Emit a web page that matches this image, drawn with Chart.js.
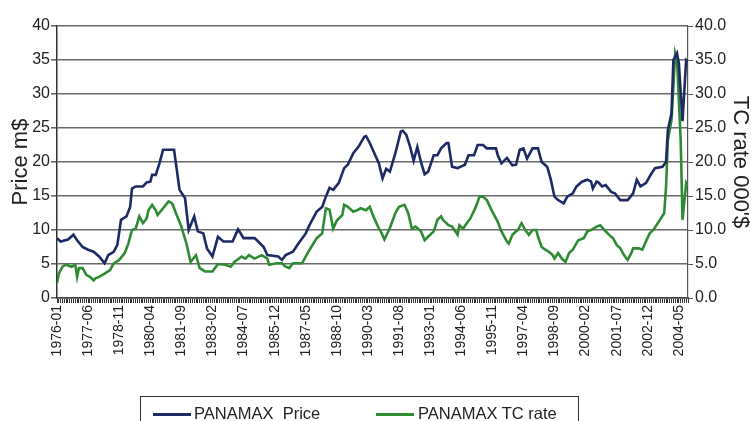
<!DOCTYPE html>
<html>
<head>
<meta charset="utf-8">
<script src="https://cdn.jsdelivr.net/npm/chart.js@4.4.1/dist/chart.umd.min.js"></script>
<style>
  html, body { margin: 0; padding: 0; background: #fff; overflow: hidden; }
  #wrap { position: relative; width: 751px; height: 421px; }
  #legend {
    position: absolute; left: 140px; top: 396px; width: 439px; height: 40px;
    border: 1px solid #333; box-sizing: border-box;
    font-family: 'Liberation Sans', Arial, sans-serif;
    font-size: 16.5px; color: #222; line-height: 20px;
  }
  .swatch { position: absolute; top: 16px; width: 38px; height: 3px; }
  .label { position: absolute; top: 6px; white-space: nowrap; }
</style>
</head>
<body>
<div id="wrap">
  <canvas id="chart" width="751" height="421"></canvas>
  <div id="legend">
    <div class="swatch" style="left:12px;background:#1d2a63"></div>
    <div class="label" style="left:53px">PANAMAX&nbsp; Price</div>
    <div class="swatch" style="left:235px;background:#2f8a34"></div>
    <div class="label" style="left:277px">PANAMAX TC rate</div>
  </div>
</div>
<script>
// x axis tick labels, one every 17 months starting 1976-01
const tickLabels = ["1976-01", "1977-06", "1978-11", "1980-04", "1981-09", "1983-02", "1984-07",
  "1985-12", "1987-05", "1988-10", "1990-03", "1991-08", "1993-01", "1994-06", "1995-11",
  "1997-04", "1998-09", "2000-02", "2001-07", "2002-12", "2004-05"];
const labelEvery = 17;
const lastMonth = 345; // months counted from 1976-01

// PANAMAX price, m$ (month index, value)
const priceMonths = [0, 2, 6, 9, 11, 14, 17, 20, 23, 26, 28, 31, 33, 35, 38, 40, 41, 43, 47, 49,
  51, 52, 54, 56, 58, 64, 67, 70, 72, 75, 77, 80, 82, 85, 88, 91, 96, 98, 99, 102,
  108, 110, 113, 115, 121, 123, 125, 129, 132, 136, 138, 142, 145, 147, 149, 151, 154, 157, 159, 162,
  165, 168, 169, 171, 174, 176, 178, 180, 182, 185, 188, 189, 191, 193, 195, 197, 199, 201, 203, 206,
  208, 210, 213, 214, 216, 219, 223, 225, 228, 230, 233, 235, 240, 241, 243, 246, 249, 251, 253, 255,
  257, 260, 263, 265, 268, 270, 272, 274, 277, 279, 282, 284, 287, 290, 292, 293, 295, 296, 298, 300,
  303, 305, 308, 312, 315, 317, 319, 322, 325, 327, 331, 333, 334, 336, 337, 339, 340, 342, 344, 345];
const priceValues = [8.8, 8.3, 8.6, 9.3, 8.5, 7.5, 7.1, 6.8, 6.1, 5.1, 6.3, 6.8, 7.8, 11.5, 12.0, 13.4, 16.1, 16.4, 16.4, 17.0,
  17.1, 18.1, 18.1, 19.8, 21.8, 21.8, 15.9, 14.7, 10.0, 12.0, 9.8, 9.5, 7.3, 6.1, 9.0, 8.3, 8.3, 9.5, 10.1, 8.8,
  8.8, 8.3, 7.5, 6.3, 6.1, 5.6, 6.3, 6.8, 8.0, 9.5, 10.7, 12.7, 13.4, 14.9, 16.2, 15.9, 16.9, 19.1, 19.6, 21.3,
  22.3, 23.7, 23.8, 22.8, 21.0, 19.8, 17.6, 19.0, 18.6, 21.3, 24.5, 24.6, 24.0, 22.3, 20.2, 22.2, 20.0, 18.2, 18.6, 21.0,
  21.0, 22.0, 22.8, 22.8, 19.3, 19.1, 19.6, 21.0, 21.0, 22.5, 22.5, 22.0, 22.0, 21.0, 19.8, 20.6, 19.5, 19.6, 21.8, 22.0,
  20.5, 22.0, 22.0, 20.0, 19.3, 17.4, 14.9, 14.4, 13.9, 14.9, 15.4, 16.4, 17.1, 17.4, 17.1, 16.1, 17.1, 17.0, 16.4, 16.6,
  15.6, 15.4, 14.4, 14.4, 15.4, 17.4, 16.4, 16.9, 18.3, 19.1, 19.3, 20.0, 24.7, 27.2, 35.0, 36.0, 34.5, 26.0, 35.0, 34.8];

// PANAMAX TC rate, 000$ (month index, value)
const tcMonths = [0, 1, 3, 5, 8, 10, 11, 12, 14, 16, 18, 20, 21, 23, 26, 29, 31, 34, 37, 39,
  41, 43, 45, 47, 49, 50, 52, 54, 55, 58, 61, 63, 65, 68, 71, 73, 76, 78, 81, 85,
  88, 92, 95, 97, 101, 103, 105, 108, 112, 115, 116, 120, 123, 125, 127, 129, 134, 137, 139, 142,
  145, 147, 149, 151, 153, 156, 157, 159, 162, 164, 166, 169, 171, 173, 176, 177, 179, 182, 185, 187,
  190, 192, 194, 196, 199, 201, 204, 206, 208, 210, 211, 214, 216, 219, 220, 222, 224, 226, 229, 231,
  233, 235, 238, 241, 243, 246, 247, 249, 251, 252, 254, 256, 258, 260, 262, 263, 265, 267, 269, 271,
  272, 274, 276, 278, 280, 282, 285, 288, 290, 292, 295, 297, 300, 303, 304, 306, 308, 310, 312, 314,
  315, 318, 320, 322, 324, 326, 329, 332, 333, 334, 336, 338, 339, 341, 342, 344, 345];
const tcValues = [2.2, 3.6, 4.6, 4.9, 4.6, 4.9, 3.1, 4.4, 4.4, 3.4, 3.1, 2.6, 2.9, 3.1, 3.6, 4.1, 5.1, 5.6, 6.6, 8.0,
  10.0, 10.2, 12.0, 11.0, 11.7, 12.9, 13.7, 12.9, 12.2, 13.2, 14.2, 13.9, 12.5, 10.5, 7.8, 5.3, 6.3, 4.4, 3.9, 3.9,
  5.0, 4.9, 4.6, 5.3, 6.1, 5.8, 6.3, 5.8, 6.3, 5.8, 4.9, 5.1, 5.1, 4.6, 4.4, 5.1, 5.1, 6.6, 7.5, 8.8,
  9.5, 13.2, 13.0, 10.2, 11.4, 12.2, 13.7, 13.4, 12.7, 12.9, 13.2, 12.9, 13.4, 12.0, 10.2, 9.8, 8.6, 10.3, 12.5, 13.4,
  13.7, 12.5, 10.2, 10.5, 9.8, 8.5, 9.3, 9.8, 11.5, 12.0, 11.5, 10.7, 10.5, 9.3, 10.7, 10.2, 11.0, 11.7, 13.4, 14.9,
  14.9, 14.4, 12.7, 11.2, 9.8, 8.3, 8.0, 9.3, 9.8, 10.0, 11.0, 10.0, 9.3, 10.0, 10.0, 9.0, 7.5, 7.1, 6.8, 6.3,
  5.8, 6.6, 5.8, 5.3, 6.6, 7.1, 8.5, 8.8, 9.8, 10.0, 10.5, 10.7, 9.8, 9.0, 8.8, 7.8, 7.3, 6.3, 5.6, 6.6,
  7.3, 7.3, 7.1, 8.3, 9.5, 10.0, 11.2, 12.5, 16.4, 23.2, 26.2, 36.0, 35.0, 23.2, 11.5, 16.9, 16.4];

const family = "'Liberation Sans', Arial, sans-serif";
const tickFont = { family: family, size: 16 };
const xFont = { family: family, size: 14 };
const titleFont = { family: family, size: 22, lineHeight: 1 };

function toPoints(months, values) {
  return months.map((m, i) => ({ x: m, y: values[i] }));
}

new Chart(document.getElementById("chart"), {
  type: "line",
  data: {
    datasets: [
      {
        label: "PANAMAX  Price",
        data: toPoints(priceMonths, priceValues),
        borderColor: "#1d2a63",
        borderWidth: 2.6,
        pointRadius: 0,
        tension: 0,
        yAxisID: "y",
      },
      {
        label: "PANAMAX TC rate",
        data: toPoints(tcMonths, tcValues),
        borderColor: "#2f8a34",
        borderWidth: 2.6,
        pointRadius: 0,
        tension: 0,
        yAxisID: "y1",
      },
    ],
  },
  options: {
    responsive: false,
    animation: false,
    layout: { padding: { top: 26, left: 0, right: 0, bottom: 0 } },
    plugins: {
      legend: { display: false },
      tooltip: { enabled: false },
    },
    scales: {
      x: {
        type: "linear",
        min: 0,
        max: lastMonth,
        ticks: {
          stepSize: 1,
          autoSkip: false,
          minRotation: 90,
          maxRotation: 90,
          padding: 2,
          color: "#222",
          font: xFont,
          callback: (v) => (v % labelEvery === 0 ? tickLabels[v / labelEvery] : ""),
        },
        grid: { drawOnChartArea: false, tickLength: 5, color: "#333", lineWidth: 1 },
        border: { color: "#444", width: 1.5 },
        afterFit: (s) => { s.height = 123; },
      },
      y: {
        position: "left",
        min: 0,
        max: 40,
        ticks: { stepSize: 5, padding: 1, color: "#222", font: tickFont },
        grid: { color: "#6a6a6a", lineWidth: 1.6, tickLength: 6 },
        border: { color: "#333", width: 1.5 },
        title: { display: true, text: "Price m$", color: "#222", font: titleFont, padding: { top: 10 } },
        afterFit: (s) => { s.width = 57; },
      },
      y1: {
        position: "right",
        min: 0,
        max: 40,
        ticks: { stepSize: 5, padding: 2, color: "#222", font: tickFont, callback: (v) => v.toFixed(1) },
        grid: { drawOnChartArea: false, tickLength: 5, color: "#555" },
        border: { color: "#555", width: 1.2 },
        title: { display: true, text: "TC rate 000'$", color: "#222", font: titleFont, padding: { top: 0 } },
        afterFit: (s) => { s.width = 63; },
      },
    },
  },
});
</script>
</body>
</html>
